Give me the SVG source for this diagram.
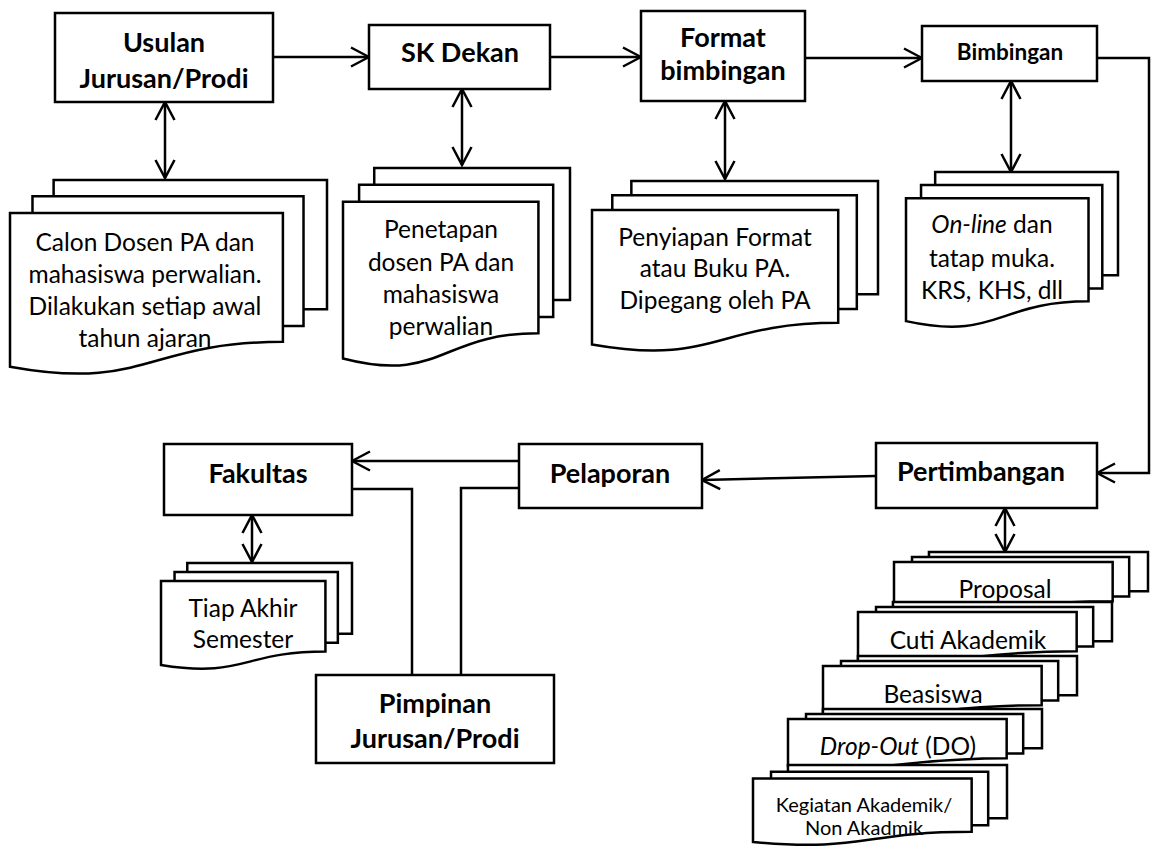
<svg xmlns="http://www.w3.org/2000/svg" width="1155" height="850" viewBox="0 0 1155 850">
<style>
  .box{fill:#fff;stroke:#000;stroke-width:2.5}
  .pg{fill:#fff;stroke:#000;stroke-width:2.5;vector-effect:non-scaling-stroke}
  .ln{fill:none;stroke:#000;stroke-width:2.5}
  .arr{marker-end:url(#open)}
  .dbl{marker-start:url(#open);marker-end:url(#open)}
  text{font-family:Lato,"Liberation Sans",sans-serif;fill:#000;text-anchor:middle}
  .t{font-size:24.5px}
  .s{font-size:20px}
  .b{font-size:27px;font-weight:bold}
  .bs{font-size:22.5px;font-weight:bold}
  .i{font-style:italic}
</style>
<defs>
  <marker id="open" markerUnits="userSpaceOnUse" viewBox="0 0 22 22" markerWidth="22" markerHeight="22" refX="20" refY="11" orient="auto-start-reverse">
    <path d="M2,1.5 L20,11 L2,20.5" fill="none" stroke="#000" stroke-width="2.5"/>
  </marker>
  <!-- three stacked pages, the front one with a wavy bottom -->
  <symbol id="multidoc" viewBox="0 0 21600 21600" preserveAspectRatio="none" overflow="visible">
    <path class="pg" d="M2972,0 H21600 V14392 H2972 Z"/>
    <path class="pg" d="M1532,1815 H20000 V16252 H1532 Z"/>
    <path class="pg" d="M0,3675 H18595 V18022 C9298,18022 9298,23542 0,20782 Z"/>
  </symbol>
</defs>
<rect width="1155" height="850" fill="#fff"/>

<!-- connectors -->
<g id="connectors">
  <path class="ln arr" d="M273,57 H369"/>
  <path class="ln arr" d="M550,57 H641"/>
  <path class="ln arr" d="M805,58 H922"/>
  <path class="ln arr" d="M1097,58 H1149 V473 H1097"/>
  <path class="ln arr" d="M876,476 L702,480"/>
  <path class="ln arr" d="M519,461 H352"/>
  <path class="ln" d="M352,489 H412 V675"/>
  <path class="ln" d="M519,488 H461 V675"/>
  <path class="ln dbl" d="M165,102 V178"/>
  <path class="ln dbl" d="M462,89 V165"/>
  <path class="ln dbl" d="M725,101 V179"/>
  <path class="ln dbl" d="M1011,81 V172"/>
  <path class="ln dbl" d="M1005,508 V552"/>
  <path class="ln dbl" d="M252,515 V562"/>
</g>

<!-- process boxes -->
<g id="usulan">
  <rect class="box" x="55" y="13" width="218" height="89"/>
  <text class="b" x="164" y="52">Usulan</text>
  <text class="b" x="164" y="88">Jurusan/Prodi</text>
</g>
<g id="sk-dekan">
  <rect class="box" x="369" y="25" width="181" height="64"/>
  <text class="b" x="460" y="62">SK Dekan</text>
</g>
<g id="format-bimbingan">
  <rect class="box" x="641" y="11" width="164" height="90"/>
  <text class="b" x="723" y="47">Format</text>
  <text class="b" x="723" y="80">bimbingan</text>
</g>
<g id="bimbingan">
  <rect class="box" x="922" y="26" width="175" height="55"/>
  <text class="bs" x="1010" y="60">Bimbingan</text>
</g>
<g id="pertimbangan">
  <rect class="box" x="876" y="443" width="221" height="65"/>
  <text class="b" x="981" y="481">Pertimbangan</text>
</g>
<g id="pelaporan">
  <rect class="box" x="519" y="444" width="183" height="64"/>
  <text class="b" x="610" y="483">Pelaporan</text>
</g>
<g id="fakultas">
  <rect class="box" x="164" y="444" width="188" height="71"/>
  <text class="b" x="258" y="483">Fakultas</text>
</g>
<g id="pimpinan">
  <rect class="box" x="316" y="675" width="238" height="88"/>
  <text class="b" x="435" y="713">Pimpinan</text>
  <text class="b" x="435" y="748">Jurusan/Prodi</text>
</g>

<!-- document stacks -->
<g id="doc-calon">
  <use href="#multidoc" x="10" y="180" width="317" height="194"/>
  <text class="t" x="145" y="251">Calon Dosen PA dan</text>
  <text class="t" x="145" y="283">mahasiswa perwalian.</text>
  <text class="t" x="145" y="315">Dilakukan setiap awal</text>
  <text class="t" x="145" y="347">tahun ajaran</text>
</g>
<g id="doc-penetapan">
  <use href="#multidoc" x="343" y="168" width="227" height="198"/>
  <text class="t" x="441" y="238">Penetapan</text>
  <text class="t" x="441" y="271">dosen PA dan</text>
  <text class="t" x="441" y="303">mahasiswa</text>
  <text class="t" x="441" y="335">perwalian</text>
</g>
<g id="doc-penyiapan">
  <use href="#multidoc" x="592" y="181" width="286" height="170"/>
  <text class="t" x="715" y="246">Penyiapan Format</text>
  <text class="t" x="715" y="277">atau Buku PA.</text>
  <text class="t" x="715" y="309">Dipegang oleh PA</text>
</g>
<g id="doc-online">
  <use href="#multidoc" x="906" y="172" width="212" height="155"/>
  <text class="t" x="992" y="233"><tspan class="i">On-line</tspan> dan</text>
  <text class="t" x="992" y="267">tatap muka.</text>
  <text class="t" x="992" y="299">KRS, KHS, dll</text>
</g>
<g id="doc-semester">
  <use href="#multidoc" x="161" y="563" width="191" height="106"/>
  <text class="t" x="243" y="617">Tiap Akhir</text>
  <text class="t" x="243" y="648">Semester</text>
</g>
<g id="doc-proposal">
  <use href="#multidoc" x="894" y="552" width="254" height="59"/>
  <text class="t" x="1005" y="598">Proposal</text>
</g>
<g id="doc-cuti">
  <use href="#multidoc" x="858" y="602" width="254" height="59"/>
  <text class="t" x="968" y="649">Cuti Akademik</text>
</g>
<g id="doc-beasiswa">
  <use href="#multidoc" x="823" y="656" width="254" height="59"/>
  <text class="t" x="933" y="703">Beasiswa</text>
</g>
<g id="doc-dropout">
  <use href="#multidoc" x="788" y="709" width="254" height="59"/>
  <text class="t" x="898" y="755"><tspan class="i">Drop-Out</tspan> (DO)</text>
</g>
<g id="doc-kegiatan">
  <use href="#multidoc" x="753" y="765" width="254" height="80"/>
  <text class="s" x="864" y="812">Kegiatan Akademik/</text>
  <text class="s" x="864" y="835">Non Akadmik</text>
</g>
</svg>
